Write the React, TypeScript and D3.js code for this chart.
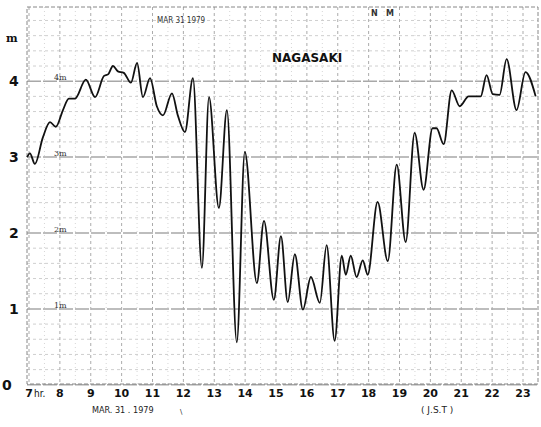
import React from "react";
import * as d3 from "d3";

// Tide record, Nagasaki, 31 Mar 1979 (hour JST, metres)
const hours = [6.94, 7.03, 7.19, 7.45, 7.68, 7.87, 8.1, 8.29, 8.49, 8.84, 9.14, 9.43, 9.56, 9.72, 9.88, 10.07, 10.3, 10.5, 10.69, 10.92, 11.14, 11.34, 11.63, 11.82, 12.05, 12.31, 12.6, 12.83, 13.15, 13.41, 13.73, 13.99, 14.38, 14.61, 14.93, 15.16, 15.38, 15.61, 15.87, 16.13, 16.42, 16.64, 16.9, 17.13, 17.26, 17.42, 17.61, 17.81, 17.97, 18.29, 18.62, 18.91, 19.2, 19.49, 19.78, 20.07, 20.2, 20.43, 20.69, 20.95, 21.24, 21.63, 21.82, 22.02, 22.24, 22.47, 22.79, 23.08, 23.41];
const levels = [3.0, 3.05, 2.91, 3.26, 3.46, 3.4, 3.62, 3.77, 3.77, 4.02, 3.79, 4.07, 4.09, 4.2, 4.13, 4.11, 3.98, 4.24, 3.79, 4.04, 3.67, 3.55, 3.84, 3.55, 3.33, 4.04, 1.54, 3.79, 2.33, 3.62, 0.56, 3.07, 1.34, 2.16, 1.12, 1.96, 1.09, 1.72, 0.99, 1.42, 1.08, 1.84, 0.58, 1.7, 1.45, 1.7, 1.42, 1.64, 1.45, 2.41, 1.63, 2.9, 1.88, 3.32, 2.57, 3.38, 3.38, 3.17, 3.88, 3.67, 3.8, 3.8, 4.08, 3.83, 3.82, 4.29, 3.62, 4.12, 3.8];
const hourTicks = [7, 8, 9, 10, 11, 12, 13, 14, 15, 16, 17, 18, 19, 20, 21, 22, 23];
const meterTicks = [0, 1, 2, 3, 4];
const paperLabels = ["1m", "2m", "3m", "4m"];

export default function App() {
  const W = 541, H = 427;
  const x = d3.scaleLinear().domain([7, 23]).range([29, 523]);
  const y = d3.scaleLinear().domain([0, 4]).range([384.8, 81.2]);
  const left = 27, right = 538, top = 7, bottom = 384;

  const line = d3
    .line<number>()
    .x((_, i) => x(hours[i]))
    .y((d) => y(d))
    .curve(d3.curveMonotoneX);

  const hLines = d3.range(0, 4.9, 0.2);
  const vHalf = d3.range(7.5, 23.5, 1);

  return (
    <svg width={W} height={H} style={{ position: "absolute", left: 0, top: 0, background: "#fff" }}>
      <rect x={0} y={0} width={W} height={H} fill="#fff" />
      {/* paper grid */}
      {hLines.map((v, i) => {
        const major = Math.abs(v - Math.round(v)) < 0.01;
        return (
          <line key={"h" + i} x1={left} x2={right} y1={y(v)} y2={y(v)}
            stroke={major ? "#a8a8a8" : "#cfcfcf"} strokeWidth={major ? 1.5 : 1}
            strokeDasharray={major ? "14 2" : "3 3"} />
        );
      })}
      {hourTicks.map((h) => (
        <line key={"v" + h} x1={x(h)} x2={x(h)} y1={top} y2={bottom}
          stroke="#ababab" strokeWidth={1} strokeDasharray="3 3" />
      ))}
      {vHalf.map((h) => (
        <line key={"vh" + h} x1={x(h)} x2={x(h)} y1={top} y2={bottom}
          stroke="#d6d6d6" strokeWidth={1} strokeDasharray="1 3" />
      ))}
      <rect x={left} y={top} width={right - left} height={bottom - top} fill="none"
        stroke="#888" strokeWidth={1} strokeDasharray="4 2" />

      {/* paper annotations */}
      {paperLabels.map((t, i) => (
        <text key={t} x={54} y={y(i + 1) - 1} fontFamily="DejaVu Serif" fontSize={8} fill="#333">{t}</text>
      ))}
      <text x={157} y={23} fontFamily="DejaVu Sans Condensed" fontSize={8} fill="#333">MAR 31 1979</text>
      <text x={371} y={16} fontFamily="DejaVu Sans" fontSize={8} fontWeight="bold" fill="#333">N</text>
      <text x={386} y={16} fontFamily="DejaVu Sans" fontSize={8} fontWeight="bold" fill="#333">M</text>
      <text x={272} y={62} fontFamily="DejaVu Sans" fontSize={12} fontWeight="bold" fill="#111">NAGASAKI</text>

      {/* record */}
      <path d={line(levels) || ""} fill="none" stroke="#111" strokeWidth={1.8} />

      {/* axis labels */}
      <text x={6} y={42} fontFamily="DejaVu Serif" fontSize={11} fontWeight="bold" fill="#111">m</text>
      {meterTicks.map((m) => (
        <text key={"m" + m} x={m === 0 ? 2 : 9} y={y(m) + 5} fontFamily="DejaVu Sans" fontSize={14} fontWeight="bold" fill="#111">{m}</text>
      ))}
      {hourTicks.map((h) => (
        <text key={"t" + h} x={x(h)} y={397} textAnchor="middle"
          fontFamily="DejaVu Sans" fontSize={11} fontWeight="bold" fill="#111">
          {String(h)}
        </text>
      ))}
      <text x={34} y={397} fontFamily="DejaVu Sans Condensed" fontSize={10} fill="#111">hr.</text>
      <text x={92} y={413} fontFamily="DejaVu Sans Condensed" fontSize={9} fill="#222">MAR. 31 . 1979</text>
      <text x={180} y={414} fontFamily="DejaVu Sans" fontSize={7} fill="#222">\</text>
      <text x={421} y={413} fontFamily="DejaVu Sans" fontSize={9} fill="#222">( J.S.T )</text>
    </svg>
  );
}
